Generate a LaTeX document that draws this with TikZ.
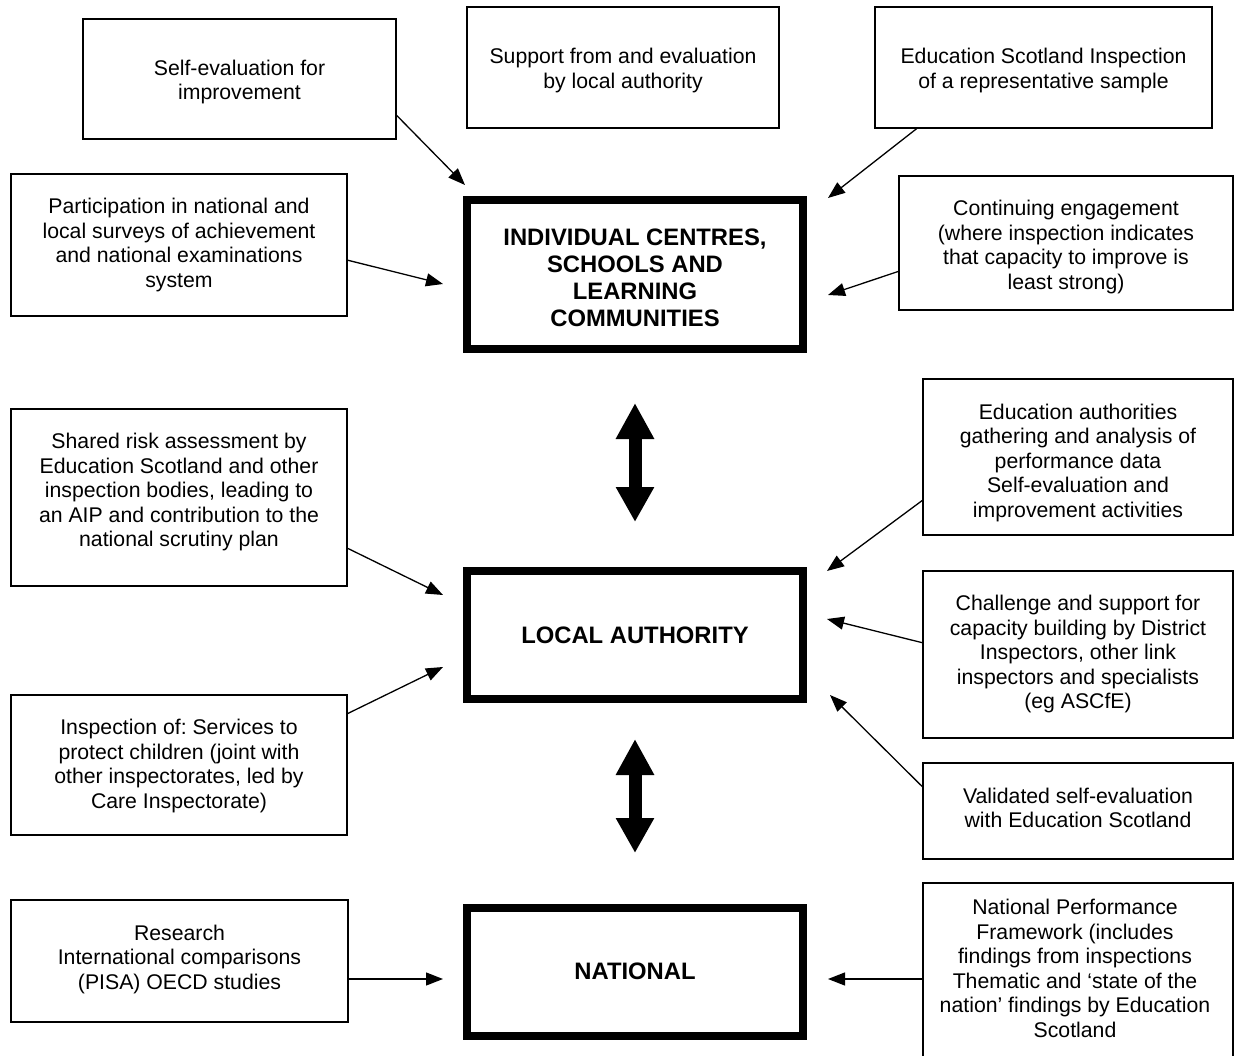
\documentclass[tikz,border=0pt]{standalone}
\usepackage{fontspec}
\setmainfont{Liberation Sans}
\usetikzlibrary{arrows.meta,calc}
\frenchspacing
\begin{document}
\begin{tikzpicture}[x=1pt,y=-1pt,
  box/.style={draw, line width=1.3pt, rectangle, inner sep=0pt},
  txt/.style={inner sep=0pt, align=center, font=\fontsize{21.25pt}{24.5pt}\selectfont\frenchspacing},
  bigbox/.style={draw, line width=8pt, rectangle, inner sep=0pt},
  bigtxt/.style={inner sep=0pt, align=center, font=\fontsize{23.8pt}{27.2pt}\selectfont\bfseries},
  conn/.style={line width=1.3pt, -{Triangle[length=17pt,width=13pt]}},
  dblarrow/.style={line width=13pt, {Triangle[length=36pt,width=36pt]}-{Triangle[length=35pt,width=36pt]}}
]
\useasboundingbox (0,0) rectangle (1234,1056);
\clip (0,0) rectangle (1234,1056);

% central boxes
\node[bigbox, minimum width=336pt, minimum height=149pt,
  label={[bigtxt, yshift=-3pt]center:{INDIVIDUAL CENTRES,\\SCHOOLS AND\\LEARNING\\COMMUNITIES}}] (B1) at (635,275) {};
\node[bigbox, minimum width=336pt, minimum height=128pt,
  label={[bigtxt]center:{LOCAL AUTHORITY}}] (LA) at (635,635) {};
\node[bigbox, minimum width=336pt, minimum height=128pt,
  label={[bigtxt]center:{NATIONAL}}] (NAT) at (635,971.5) {};

% side boxes
\node[box, minimum width=313pt, minimum height=120pt,
  label={[txt, yshift=-3pt]center:{Self-evaluation for\\improvement}}] (A) at (239.5,79) {};
\node[box, minimum width=312pt, minimum height=121pt,
  label={[txt, yshift=-3pt]center:{Support from and evaluation\\by local authority}}] (B) at (623,67.5) {};
\node[box, minimum width=337pt, minimum height=121pt,
  label={[txt, yshift=-3pt]center:{Education Scotland Inspection\\of a representative sample}}] (C) at (1043.5,67.5) {};
\node[box, minimum width=336pt, minimum height=142pt,
  label={[txt]center:{Participation in national and\\local surveys of achievement\\and national examinations\\system}}] (D) at (179,245) {};
\node[box, minimum width=334pt, minimum height=134pt,
  label={[txt, yshift=-4pt]center:{Continuing engagement\\(where inspection indicates\\that capacity to improve is\\least strong)}}] (E) at (1066,243) {};
\node[box, minimum width=336pt, minimum height=177pt,
  label={[txt, yshift=5pt]center:{Shared risk assessment by\\Education Scotland and other\\inspection bodies, leading to\\an AIP and contribution to the\\national scrutiny plan}}] (F) at (179,497.5) {};
\node[box, minimum width=336pt, minimum height=140pt,
  label={[txt, yshift=-1pt]center:{Inspection of: Services to\\protect children (joint with\\other inspectorates, led by\\Care Inspectorate)}}] (G) at (179,765) {};
\node[box, minimum width=310pt, minimum height=156pt,
  label={[txt, yshift=-6pt]center:{Education authorities\\gathering and analysis of\\performance data\\Self-evaluation and\\improvement activities}}] (H) at (1078,457) {};
\node[box, minimum width=310pt, minimum height=167pt,
  label={[txt]center:{Challenge and support for\\capacity building by District\\Inspectors, other link\\inspectors and specialists\\(eg ASCfE)}}] (I) at (1078,654.5) {};
\node[box, minimum width=310pt, minimum height=96pt,
  label={[txt, yshift=3pt]center:{Validated self-evaluation\\with Education Scotland}}] (J) at (1078,811) {};
\node[box, minimum width=337pt, minimum height=122pt,
  label={[txt, yshift=2pt]center:{Research\\International comparisons\\(PISA) OECD studies}}] (K) at (179.5,961) {};
\node[box, minimum width=310pt, minimum height=183pt,
  label={[txt, yshift=6pt, xshift=-3pt]center:{National Performance\\Framework (includes\\findings from inspections\\Thematic and ‘state of the\\nation’ findings by Education\\Scotland}}] (L) at (1078,974.5) {};

% arrow tips
\coordinate (tA) at (465,185);
\coordinate (tD) at (443,284);
\coordinate (tC) at (828,198);
\coordinate (tE) at (828,295);
\coordinate (tF) at (443,595);
\coordinate (tG) at (443,667);
\coordinate (tH) at (827,571);
\coordinate (tI) at (827,619);
\coordinate (tJ) at (830,695);
\coordinate (tK) at (443,979);
\coordinate (tL) at (828,979);

\draw[conn] ($(A.north east)!0.8!(A.south east)$) -- (tA);
\draw[conn] ($(D.north east)!0.606!(D.south east)$) -- (tD);
\draw[conn] ($(C.south west)!0.125!(C.south east)$) -- (tC);
\draw[conn] ($(E.north west)!0.71!(E.south west)$) -- (tE);
\draw[conn] ($(F.north east)!0.785!(F.south east)$) -- (tF);
\draw[conn] ($(G.north east)!0.136!(G.south east)$) -- (tG);
\draw[conn] ($(H.north west)!0.776!(H.south west)$) -- (tH);
\draw[conn] ($(I.north west)!0.43!(I.south west)$) -- (tI);
\draw[conn] ($(J.north west)!0.25!(J.south west)$) -- (tJ);
\draw[conn] (K.east |- tK) -- (tK);
\draw[conn] (L.west |- tL) -- (tL);

% double arrows between levels
\coordinate (u1) at (635,403);
\coordinate (v1) at (635,522);
\coordinate (u2) at (635,739);
\coordinate (v2) at (635,853);
\draw[dblarrow] (u1) -- (v1);
\draw[dblarrow] (u2) -- (v2);
\end{tikzpicture}
\end{document}
